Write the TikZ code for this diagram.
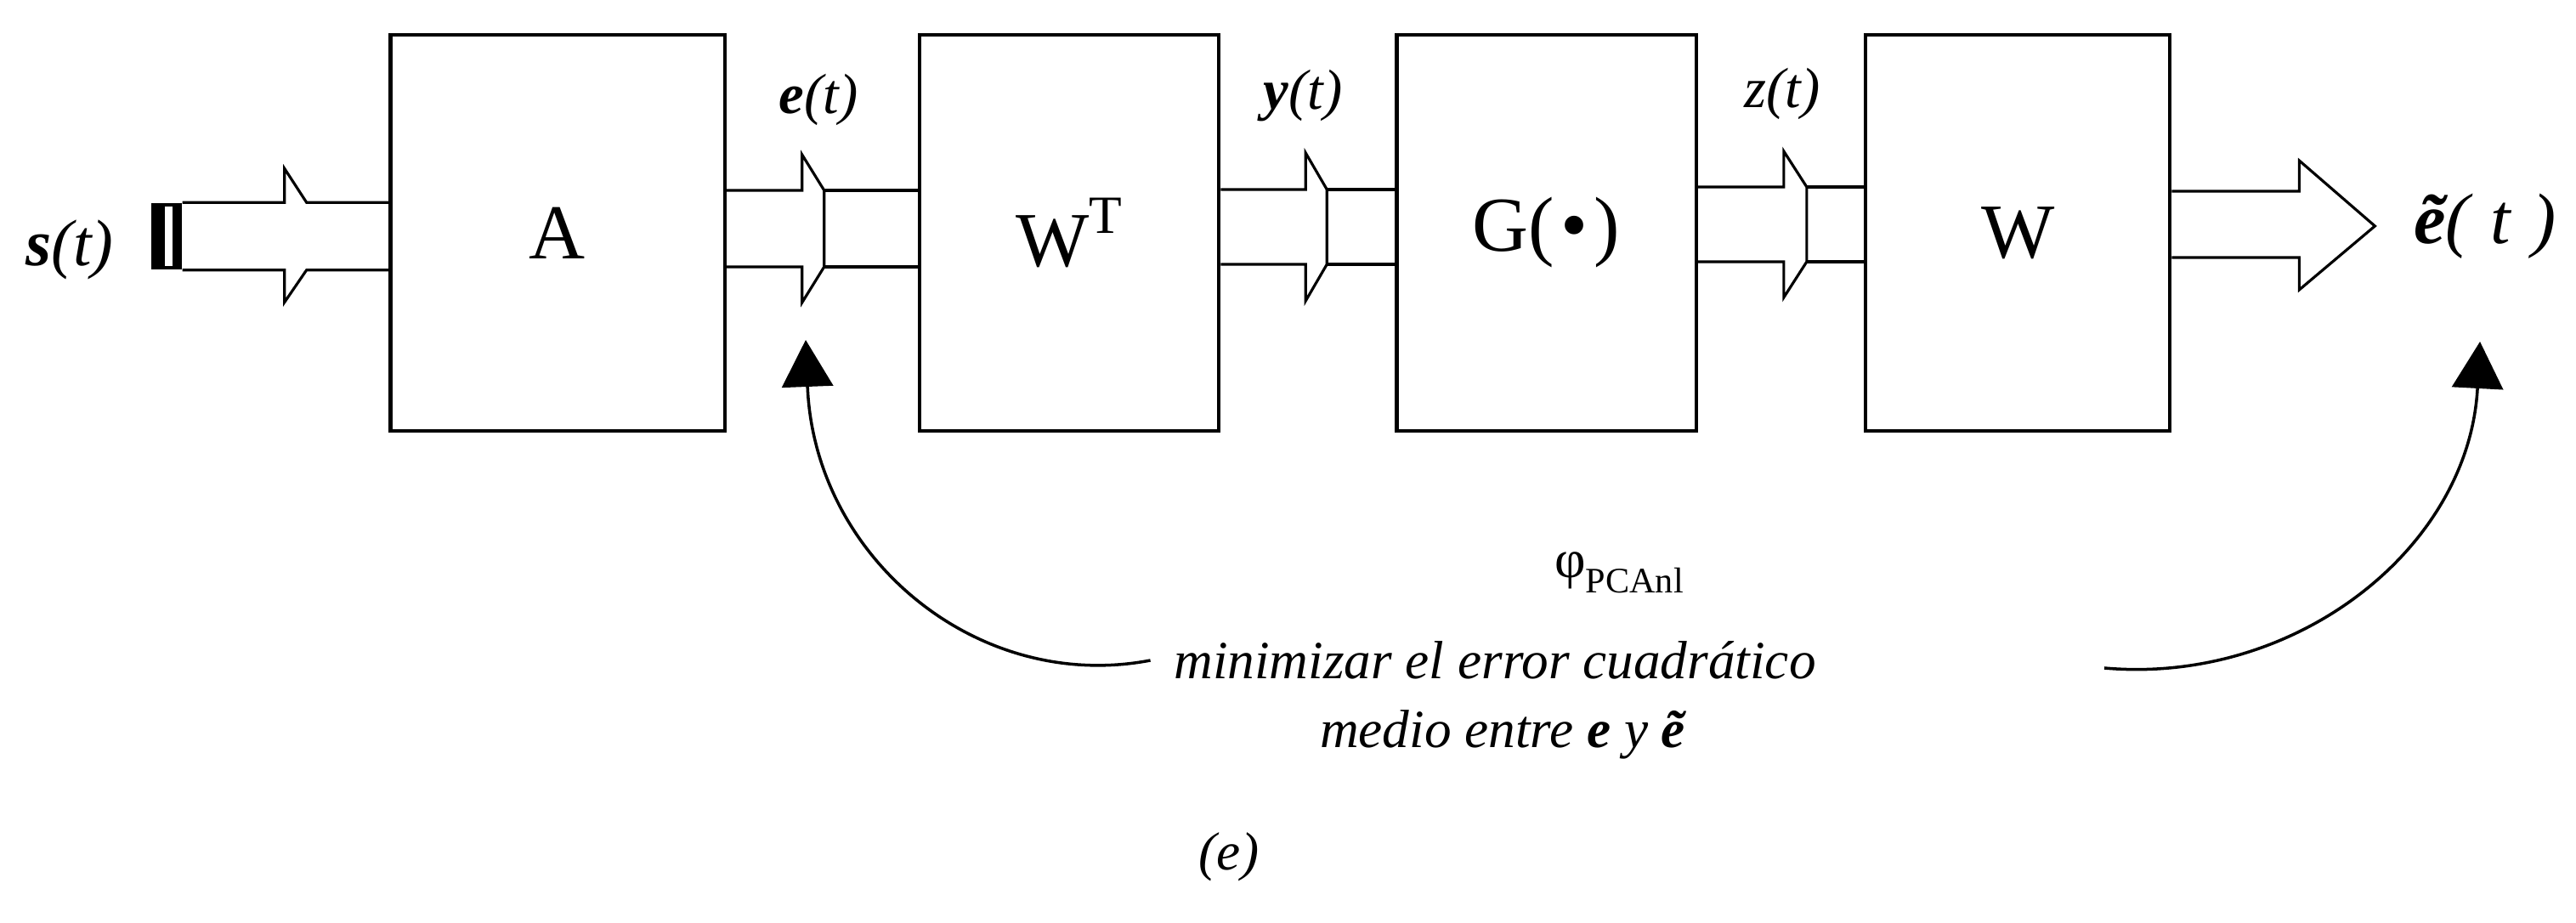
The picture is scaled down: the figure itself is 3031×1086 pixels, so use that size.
\documentclass[tikz,border=0pt]{standalone}
\usepackage{fontspec}
\setmainfont{Liberation Serif}
\usetikzlibrary{positioning,arrows.meta,calc}

\begin{document}
\begin{tikzpicture}[
  x=0.01cm, y=0.01cm,
  >={Triangle[length=5.5mm,width=6mm]},
  block/.style={draw, line width=1.2pt, minimum width=3.52cm, minimum height=4.66cm, inner sep=0pt, font=\fontsize{26}{30}\selectfont},
  shaft/.style={line width=0.9pt, line join=miter},
  sig/.style={font=\fontsize{19}{22}\selectfont\itshape, inner sep=0pt},
  txt/.style={font=\fontsize{18}{22}\selectfont\itshape, inner sep=0pt},
  fb/.style={->, line width=1pt}
]
  \useasboundingbox (0,0) rectangle (3031,1086);

  % bloques
  \node[block, minimum width=3.93cm] (A) at (656,812) {A};
  \node[block, right=2.25cm of A] (WT) {W\raisebox{0.95ex}{\fontsize{18}{21}\selectfont T}};
  \node[block, right=2.05cm of WT] (G) {G(\hspace{0.08em}\textbullet\hspace{0.08em})};
  \node[block, right=1.95cm of G, minimum width=3.58cm] (W) {W};

  % entrada s(t)
  \node[fill=black, minimum width=0.36cm, minimum height=0.78cm, inner sep=0pt] (src) at (196,808) {};
  \fill[white] (194,773) rectangle (203,843);
  \draw[shaft] (src.north east) -- ++(120,0) -- ++(0,40) -- ++(26,-40) coordinate (s1) -- (s1 -| A.west);
  \draw[shaft] (src.south east) -- ++(120,0) -- ++(0,-38) -- ++(26,38) coordinate (s2) -- (s2 -| A.west);
  \node[sig, font=\fontsize{22}{26}\selectfont\itshape] (ls) at (82,792) {\textbf{s}(t)};

  % e(t)
  \draw[shaft] ($(A.east)+(0,50)$) -- ++(89,0) -- ++(0,42) -- ++(26,-42) coordinate (e1)
    -- ++(0,-90) coordinate (e2) -- ++(-26,-42) -- ++(0,42) -- ($(A.east)+(0,-40)$);
  \draw[shaft] (e1) -- (e1 -| WT.west) (e2) -- (e2 -| WT.west);
  \node[sig] (le) at (963,969) {\textbf{e}(t)};

  % y(t)
  \draw[shaft] ($(WT.east)+(0,51)$) -- ++(100,0) -- ++(0,43) -- ++(25,-43) coordinate (y1)
    -- ++(0,-88) coordinate (y2) -- ++(-25,-43) -- ++(0,43) -- ($(WT.east)+(0,-37)$);
  \draw[shaft] (y1) -- (y1 -| G.west) (y2) -- (y2 -| G.west);
  \node[sig] (ly) at (1533,973) {\textbf{y}(t)};

  % z(t)
  \draw[shaft] ($(G.east)+(0,54)$) -- ++(101,0) -- ++(0,42) -- ++(27,-42) coordinate (z1)
    -- ++(0,-88) coordinate (z2) -- ++(-27,-42) -- ++(0,42) -- ($(G.east)+(0,-34)$);
  \draw[shaft] (z1) -- (z1 -| W.west) (z2) -- (z2 -| W.west);
  \node[sig] (lz) at (2097,976) {z(t)};

  % salida
  \coordinate (out) at ($(W.east)+(239,8)$);
  \draw[shaft] ($(W.east)+(0,49)$) -- ++(150,0) -- ++(0,36) -- (out)
    -- ($(W.east)+(150,-67)$) -- ++(0,38) -- ($(W.east)+(0,-29)$);
  \node[sig, font=\fontsize{24}{28}\selectfont\itshape, anchor=west] (lout) at ($(out)+(45,0)$) {\textbf{ẽ}(\hspace{0.3em}t\hspace{0.3em})};

  % criterio
  \node[txt, font=\fontsize{18}{22}\selectfont] (phi) at (1905,412) {φ\raisebox{-0.6ex}{\fontsize{12}{14}\selectfont PCAnl}};
  \node[txt] (l1) at (1759,309) {minimizar el error cuadrático};
  \node[txt] (l2) at (1768,222) {medio entre \textbf{e} y \textbf{ẽ}};
  \node[txt] (cap) at (1446,78) {(e)};

  \coordinate (tipE) at (948,686);
  \coordinate (tipO) at (2918,684);
  \draw[fb] ([xshift=-0.27cm]l1.west) .. controls (1150,270) and (958,430) .. (tipE);
  \draw[fb] (2476,300) .. controls (2700,280) and (2905,440) .. (tipO);
\end{tikzpicture}
\end{document}
